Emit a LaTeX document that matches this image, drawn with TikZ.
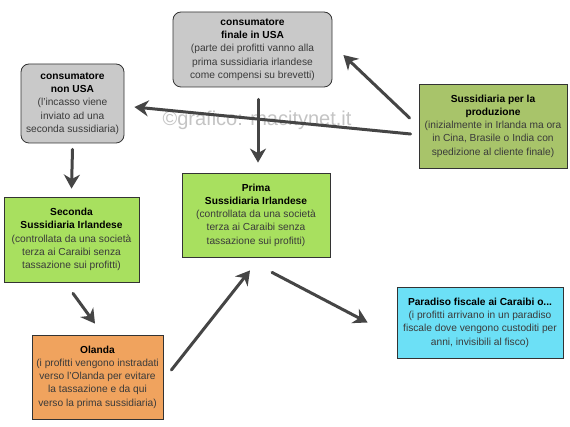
\documentclass[tikz,border=0pt]{standalone}
\usepackage{fontspec}
\setmainfont{Liberation Sans}
\usetikzlibrary{arrows.meta,calc}
\definecolor{boxgray}{HTML}{C9C9C9}
\definecolor{olive}{HTML}{A8C46A}
\definecolor{lime}{HTML}{A8E05F}
\definecolor{orangebox}{HTML}{F0A35E}
\definecolor{cyanbox}{HTML}{6CE0F6}
\definecolor{arrowgray}{HTML}{454545}
\definecolor{subtext}{HTML}{3A3A3A}
\definecolor{wmgray}{HTML}{C4C4C4}
\tikzset{
  boxbase/.style={draw=black!80, line width=0.8pt, align=center, inner sep=1pt,
    font=\fontsize{10.2}{13.3}\selectfont, text=subtext},
  graybox/.style={boxbase, fill=boxgray, rounded corners=8pt},
  olivebox/.style={boxbase, fill=olive},
  limebox/.style={boxbase, fill=lime},
  orbox/.style={boxbase, fill=orangebox},
  cybox/.style={boxbase, fill=cyanbox},
  arr/.style={draw=arrowgray, line width=3pt, line cap=round,
    -{Stealth[length=14pt,width=16pt,inset=4.5pt]}},
}
\newcommand{\ttl}[1]{\textbf{\color{black}#1}}
\begin{document}
\begin{tikzpicture}[x=1pt,y=-1pt]
\useasboundingbox[fill=white] (0,0) rectangle (570,427);
\node[text=wmgray, font=\fontsize{20}{20}\selectfont] (wm) at (257,120) {©grafico: macitynet.it};
\node[graybox, minimum width=159pt, minimum height=75pt] (finale) at (252.5,49.5)
  {\ttl{consumatore}\\\ttl{finale in USA}\\(parte dei profitti vanno alla\\prima sussidiaria irlandese\\come compensi su brevetti)};
\node[graybox, minimum width=103pt, minimum height=79pt] (nonusa) at (72.5,103.5)
  {\ttl{consumatore}\\\ttl{non USA}\\(l'incasso viene\\inviato ad una\\seconda sussidiaria)};
\node[olivebox, minimum width=148pt, minimum height=84pt] (prod) at (493,126)
  {\ttl{Sussidiaria per la}\\\ttl{produzione}\\(inizialmente in Irlanda ma ora\\in Cina, Brasile o India con\\spedizione al cliente finale)};
\node[limebox, minimum width=148pt, minimum height=84pt] (prima) at (256,215)
  {\ttl{Prima}\\\ttl{Sussidiaria Irlandese}\\(controllata da una società\\terza ai Caraibi senza\\tassazione sui profitti)};
\node[limebox, minimum width=135pt, minimum height=85pt] (seconda) at (71.5,239.5)
  {\ttl{Seconda}\\\ttl{Sussidiaria Irlandese}\\(controllata da una società\\terza ai Caraibi senza\\tassazione sui profitti)};
\node[orbox, minimum width=131pt, minimum height=84pt] (olanda) at (97.5,377)
  {\ttl{Olanda}\\(i profitti vengono instradati\\verso l'Olanda per evitare\\la tassazione e da qui\\verso la prima sussidiaria)};
\node[cybox, minimum width=166pt, minimum height=71pt] (paradiso) at (480,322.5)
  {\ttl{Paradiso fiscale ai Caraibi o...}\\(i profitti arrivano in un paradiso\\fiscale dove vengono custoditi per\\anni, invisibili al fisco)};
\draw[arr] ($(prod.west)+(-9,-8)$) -- ($(finale.east)+(11,5.5)$);
\draw[arr] ($(prod.west)+(-8,8)$) -- ($(nonusa.east)+(10,3.5)$);
\draw[arr] ($(finale.south)+(5.5,12)$) -- ($(prima.north)+(2,-10)$);
\draw[arr] ($(nonusa.south)+(0,6)$) -- ($(seconda.north)+(0,-8)$);
\draw[arr] ($(seconda.south)+(1.5,11)$) -- ($(olanda.north)+(-2.5,-11)$);
\draw[arr] ($(olanda.east)+(8,-7)$) -- ($(prima.south)+(-6,13)$);
\draw[arr] ($(prima.south)+(16,15)$) -- ($(paradiso.west)+(-29,0)$);
\end{tikzpicture}
\end{document}
